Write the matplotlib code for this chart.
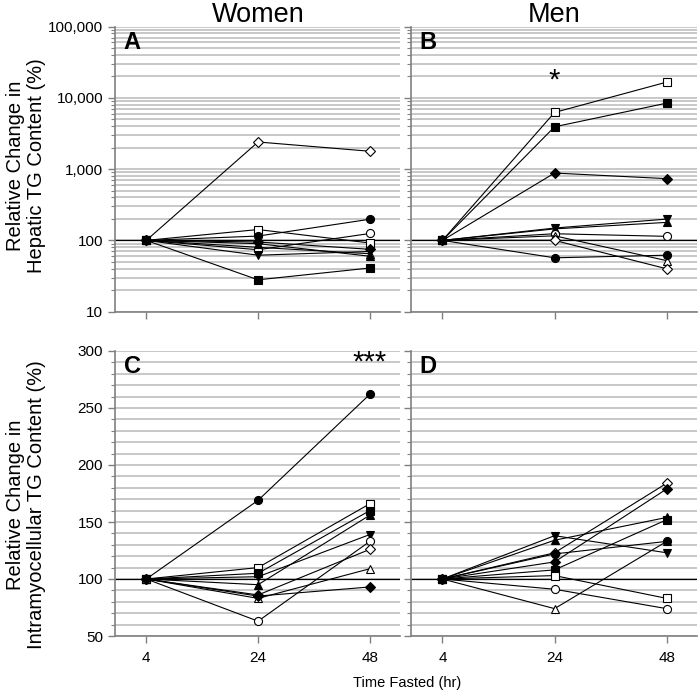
import matplotlib
matplotlib.use("Agg")
import matplotlib.pyplot as plt
from matplotlib.ticker import FixedLocator, FuncFormatter, LogLocator, MultipleLocator, NullFormatter

plt.rcParams['font.family'] = ['Liberation Sans', 'DejaVu Sans']

times = ["4", "24", "48"]

# Panel A: women hepatic TG (% of 4 h)
women_hep = {
    "D_open": [100, 2400, 1780],
    "^_open": [100, 80, 65],
    "o_open": [100, 74, 125],
    "s_open": [100, 142, 92],
    "o_fill": [100, 115, 198],
    "s_fill": [100, 28, 41],
    "^_fill": [100, 90, 60],
    "v_fill": [100, 62, 70],
    "D_fill": [100, 95, 75],
}
# Panel B: men hepatic TG
men_hep = {
    "s_open": [100, 6230, 16600],
    "s_fill": [100, 3920, 8420],
    "D_fill": [100, 880, 735],
    "^_fill": [100, 145, 179],
    "v_fill": [100, 149, 199],
    "o_open": [100, 124, 114],
    "^_open": [100, 116, 52],
    "D_open": [100, 100, 40],
    "o_fill": [100, 57, 62],
}
# Panel C: women IMCL
women_imcl = {
    "o_fill": [100, 169, 262],
    "s_open": [100, 110, 166],
    "s_fill": [100, 105, 160],
    "^_fill": [100, 95, 156],
    "v_fill": [100, 102, 139],
    "o_open": [100, 63, 133],
    "D_open": [100, 86, 126],
    "^_open": [100, 83, 109],
    "D_fill": [100, 85, 93],
}
# Panel D: men IMCL
men_imcl = {
    "D_open": [100, 123, 184],
    "D_fill": [100, 115, 179],
    "^_fill": [100, 134, 154],
    "v_fill": [100, 138, 123],
    "s_fill": [100, 108, 152],
    "^_open": [100, 74, 133],
    "s_open": [100, 103, 83],
    "o_open": [100, 91, 74],
    "o_fill": [100, 122, 133],
}

GRID = "#c4c4c4"
SPINE = "#808080"

fig = plt.figure(figsize=(7.0, 6.99), dpi=100)
W, H = 700, 699
def ax_at(l, t, r, b):
    return fig.add_axes([l / W, 1 - b / H, (r - l) / W, (b - t) / H])

axA = ax_at(115, 26.5, 400, 311.7)
axB = ax_at(411, 26.5, 697, 311.7)
axC = ax_at(115, 351, 400, 636)
axD = ax_at(411, 351, 697, 636)

def draw(ax, data):
    xs = range(len(times))
    for key, vals in data.items():
        m, fill = key.split("_")
        fc = "black" if fill == "fill" else "white"
        ms = 5.0 if m == "D" else 5.8
        ax.plot(xs, vals, color="black", lw=0.8, marker=m, ms=ms,
                mfc=fc, mec="black", mew=0.8, zorder=3)

def style(ax, log, show_ylabels, show_xlabels):
    ax.set_xlim(-0.28, 2.27)
    for s in ["top", "right"]:
        ax.spines[s].set_visible(False)
    for s in ["left", "bottom"]:
        ax.spines[s].set_color(SPINE)
        ax.spines[s].set_linewidth(1.2)
    ax.set_xticks(range(len(times)))
    if show_xlabels:
        ax.set_xticklabels(times, fontsize=11)
    else:
        ax.set_xticklabels([])
    ax.tick_params(axis="x", length=5, color=SPINE, width=1, pad=6)
    if log:
        ax.set_yscale("log")
        ax.set_ylim(10, 100000)
        ax.yaxis.set_major_locator(FixedLocator([10, 100, 1000, 10000, 100000]))
        ax.yaxis.set_minor_locator(LogLocator(base=10, subs=range(2, 10)))
        ax.yaxis.set_major_formatter(FuncFormatter(lambda v, p: f"{int(round(v)):,}"))
        ax.yaxis.set_minor_formatter(NullFormatter())
    else:
        ax.set_ylim(50, 300)
        ax.yaxis.set_major_locator(MultipleLocator(50))
        ax.yaxis.set_minor_locator(MultipleLocator(10))
    ax.grid(True, axis="y", which="both", color=GRID, lw=1.3, zorder=0)
    ax.set_axisbelow(True)
    ax.axhline(100, color="black", lw=0.9, zorder=2)
    ax.tick_params(axis="y", which="major", length=5, color=SPINE, width=1, labelsize=11)
    ax.tick_params(axis="y", which="minor", length=3, color=SPINE, width=0.8)
    if not show_ylabels:
        ax.set_yticklabels([])

draw(axA, women_hep)
draw(axB, men_hep)
draw(axC, women_imcl)
draw(axD, men_imcl)
style(axA, True, True, False)
style(axB, True, False, False)
style(axC, False, True, True)
style(axD, False, False, True)

for ax, letter in zip([axA, axB, axC, axD], "ABCD"):
    ax.text(0.03, 0.985, letter, transform=ax.transAxes, fontsize=17,
            fontweight="bold", va="top", ha="left")

fig.text(258 / W, 1 - 15 / H, "Women", fontsize=19.5, ha="center", va="center")
fig.text(554 / W, 1 - 15 / H, "Men", fontsize=19.5, ha="center", va="center")

axB.text(1, 10000 * 1.75, "*", fontsize=21, ha="center", va="center")
axC.text(2, 290, "***", fontsize=21, ha="center", va="center")

fig.text(26 / W, 1 - 166 / H, "Relative Change in\nHepatic TG Content (%)",
         fontsize=14.5, rotation=90, ha="center", va="center", linespacing=1.15)
fig.text(26 / W, 1 - 505 / H, "Relative Change in\nIntramyocellular TG Content (%)",
         fontsize=14.5, rotation=90, ha="center", va="center", linespacing=1.15)

fig.text(407 / W, 1 - 683 / H, "Time Fasted (hr)", fontsize=10.5, ha="center", va="center")

fig.savefig("out.png", dpi=100)
